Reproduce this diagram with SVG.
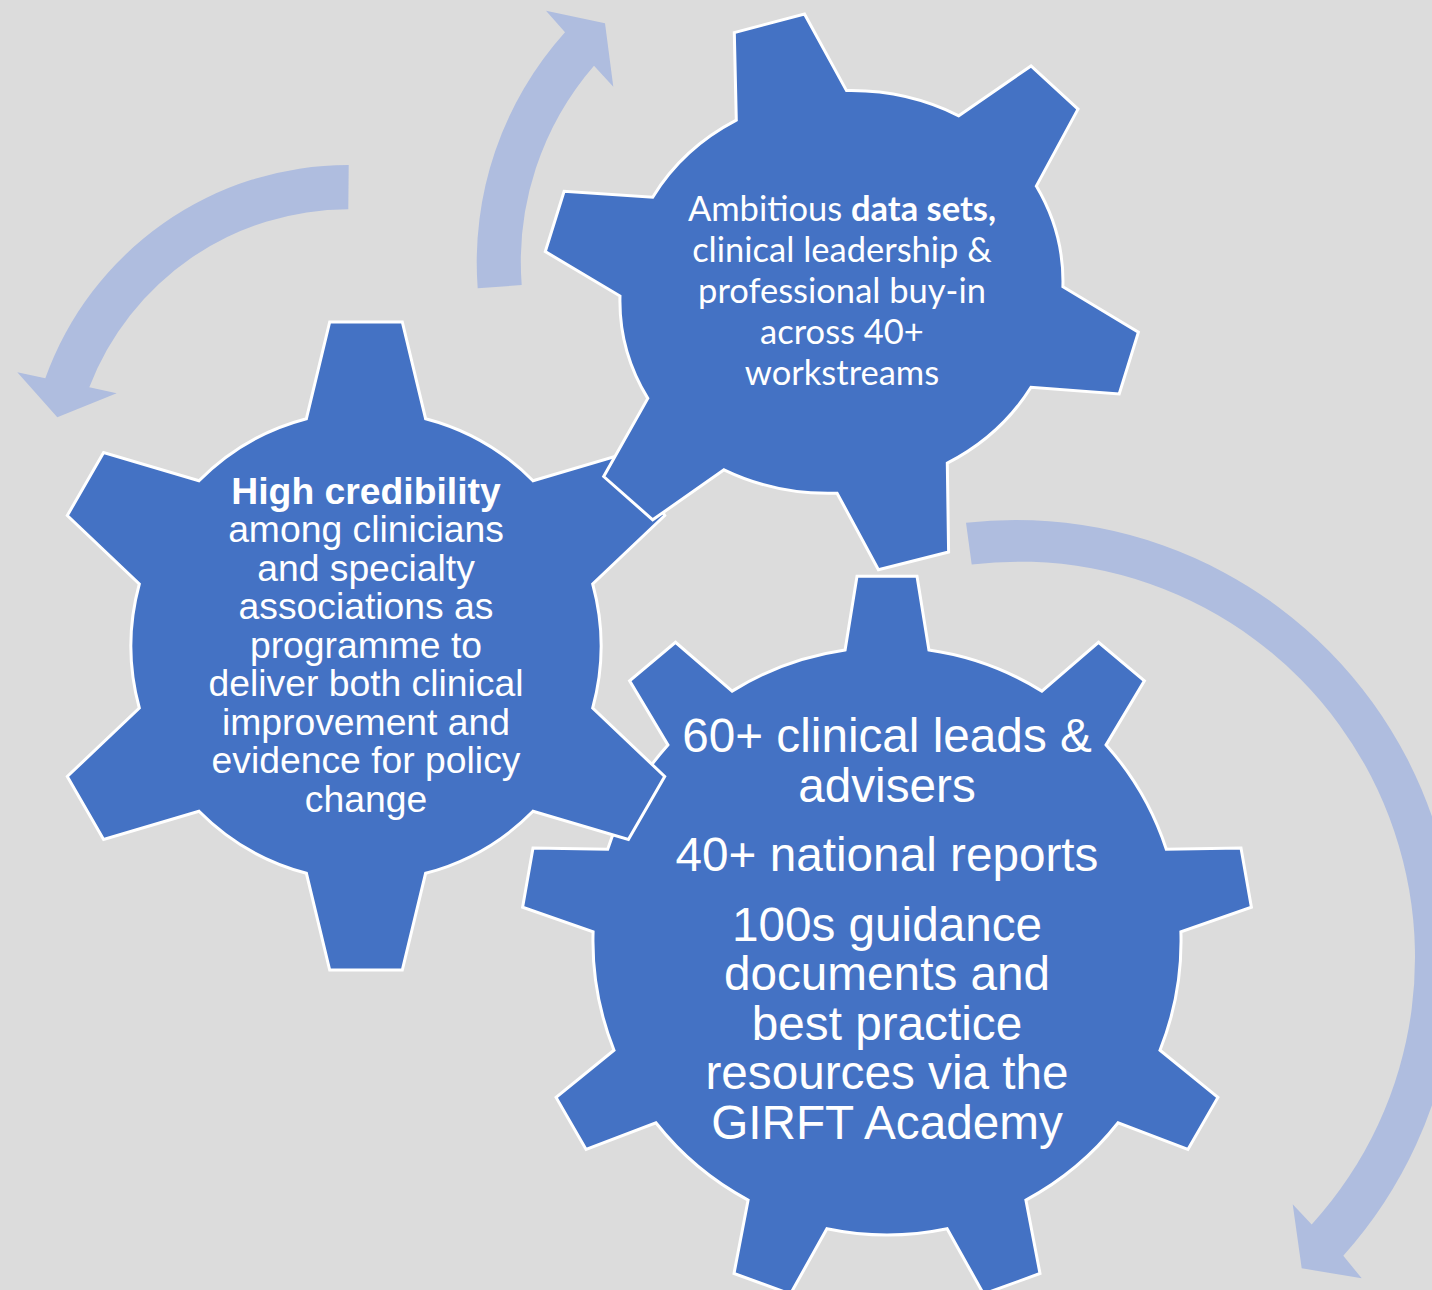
<svg xmlns="http://www.w3.org/2000/svg" width="1432" height="1290" viewBox="0 0 1432 1290">
  <style>
    .gear { fill: #4472C4; stroke: #FFFFFF; stroke-width: 3; stroke-linejoin: miter; }
    .arrow { fill: #AFBDDF; stroke: none; }
    .t-arial { font-family: "Liberation Sans", Arial, sans-serif; fill: #FFFFFF; text-anchor: middle; }
    .t-cal { font-family: Lato, "Open Sans", sans-serif; fill: #FFFFFF; text-anchor: middle; }
    .b { font-weight: bold; }
  </style>
  <rect x="0" y="0" width="1432" height="1290" fill="#DCDCDC"/>

  <!-- circular arrows -->
  <g id="connectors">
    <path class="arrow" d="M 348.7,165 A 321.4 321.4 0 0 0 45.3,378.3 L 17.3,372.3 L 57.3,417.3 L 116.7,393.3 L 89.3,387.3 A 277 277 0 0 1 348.3,209.3 Z"/>
    <path class="arrow" d="M 477.7,288.3 A 344.3 344.3 0 0 1 565,32.3 L 546,10.7 L 605,23.3 L 613.3,86.7 L 594,65.7 A 300 300 0 0 0 521.7,285 Z"/>
    <path class="arrow" d="M 966,522.7 A 441 441 0 0 1 1343.3,1255.7 L 1361.7,1278.3 L 1301.7,1268.3 L 1292.7,1204.3 L 1311.7,1224.4 A 396 396 0 0 0 971.7,564.5 Z"/>
  </g>

  <!-- nine-tooth gear, bottom -->
  <g id="gear-outputs">
    <path class="gear" d="M 845.1,650.0 L 857.0,576.2 L 917.0,576.2 L 928.9,650.0
      A 294 294 0 0 1 1041.9,691.1 L 1098.5,642.3 L 1144.4,680.8 L 1106.1,744.9
      A 294 294 0 0 1 1166.3,849.2 L 1241.0,848.1 L 1251.4,907.2 L 1180.9,931.8
      A 294 294 0 0 1 1160.0,1050.2 L 1217.9,1097.4 L 1187.9,1149.4 L 1118.1,1122.8
      A 294 294 0 0 1 1025.9,1200.1 L 1040.0,1273.5 L 983.6,1294.0 L 947.1,1228.8
      A 294 294 0 0 1 826.9,1228.8 L 790.4,1294.0 L 734.0,1273.5 L 748.1,1200.1
      A 294 294 0 0 1 655.9,1122.8 L 586.1,1149.4 L 556.1,1097.4 L 614.0,1050.2
      A 294 294 0 0 1 593.1,931.8 L 522.6,907.2 L 533.0,848.1 L 607.7,849.2
      A 294 294 0 0 1 667.9,744.9 L 629.6,680.8 L 675.5,642.3 L 732.1,691.1
      A 294 294 0 0 1 845.1,650.0 Z"/>
    <g class="t-arial" font-size="47.7">
      <text x="887" y="751.8">60+ clinical leads &amp;</text>
      <text x="887" y="802">advisers</text>
      <text x="887" y="871">40+ national reports</text>
      <text x="887" y="940.8">100s guidance</text>
      <text x="887" y="990.3">documents and</text>
      <text x="887" y="1039.8">best practice</text>
      <text x="887" y="1089.3">resources via the</text>
      <text x="887" y="1138.8">GIRFT Academy</text>
    </g>
  </g>

  <!-- six-tooth gear, left -->
  <g id="gear-credibility">
    <path class="gear" d="M 306.4,418.7 L 329.7,322.0 L 402.3,322.0 L 425.6,418.7
      A 235 235 0 0 1 533.0,480.7 L 628.4,452.6 L 664.7,515.5 L 592.7,584.0
      A 235 235 0 0 1 592.7,708.0 L 664.7,776.5 L 628.4,839.4 L 533.0,811.3
      A 235 235 0 0 1 425.6,873.3 L 402.3,970.0 L 329.7,970.0 L 306.4,873.3
      A 235 235 0 0 1 199.0,811.3 L 103.6,839.4 L 67.3,776.5 L 139.3,708.0
      A 235 235 0 0 1 139.3,584.0 L 67.3,515.5 L 103.6,452.6 L 199.0,480.7
      A 235 235 0 0 1 306.4,418.7 Z"/>
    <g class="t-arial" font-size="37.3">
      <text x="366" y="503.8" class="b">High credibility</text>
      <text x="366" y="542.3">among clinicians</text>
      <text x="366" y="580.8">and specialty</text>
      <text x="366" y="619.3">associations as</text>
      <text x="366" y="657.8">programme to</text>
      <text x="366" y="696.3">deliver both clinical</text>
      <text x="366" y="734.8">improvement and</text>
      <text x="366" y="773.3">evidence for policy</text>
      <text x="366" y="811.8">change</text>
    </g>
  </g>

  <!-- six-tooth gear, top -->
  <g id="gear-data">
    <path class="gear" d="M 736.3,120.2 L 734.3,32.6 L 804.5,14.1 L 846.5,90.6
      A 222 201 0 0 1 958.8,115.8 L 1031,65.9 L 1078,109.1 L 1036.3,186.1
      A 222 201 0 0 1 1062.9,286.7 L 1138.4,332.2 L 1119.2,394 L 1031,387.3
      A 222 201 0 0 1 947.3,463.2 L 948.6,552 L 878.4,569.7 L 837.1,493.2
      A 222 201 0 0 1 724,469.8 L 652.7,519.8 L 603.7,476.5 L 647.8,398.4
      A 222 201 0 0 1 620,296 L 545.3,251.6 L 564.1,191.3 L 652.7,197.2
      A 222 201 0 0 1 736.3,120.2 Z"/>
    <g class="t-cal" font-size="34.5">
      <text x="842" y="221">Ambitious <tspan class="b">data sets,</tspan></text>
      <text x="842" y="261.5">clinical leadership &amp;</text>
      <text x="842" y="302.5">professional buy-in</text>
      <text x="842" y="343.5">across 40+</text>
      <text x="842" y="384.5">workstreams</text>
    </g>
  </g>
</svg>
